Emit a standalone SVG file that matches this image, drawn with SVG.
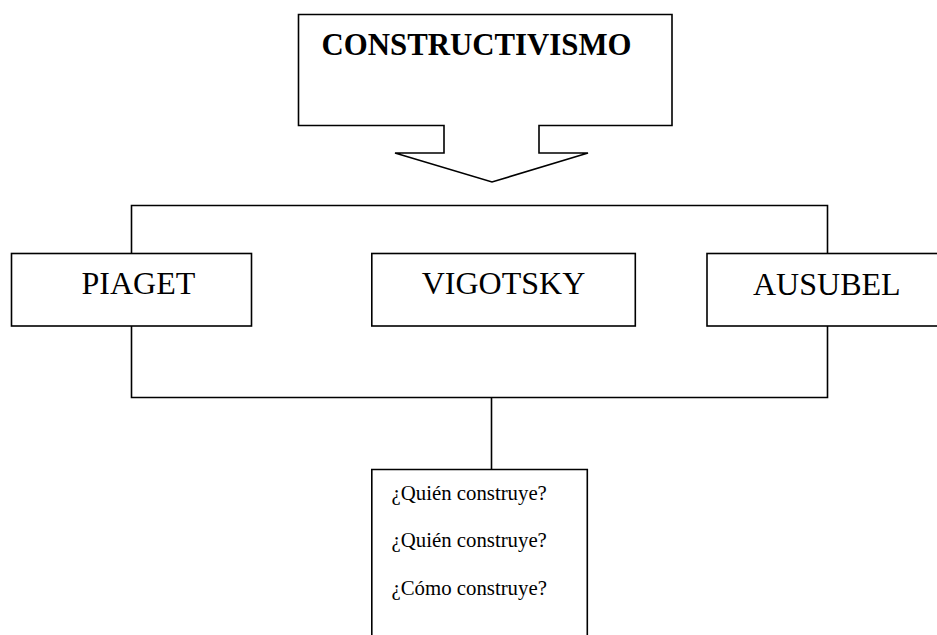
<svg xmlns="http://www.w3.org/2000/svg" width="937" height="635" viewBox="0 0 937 635">
<style>
.s{fill:#fff;stroke:#000;stroke-width:1.6}
.c{fill:none;stroke:#000;stroke-width:1.6}
.t{font-family:"Liberation Serif","Times New Roman",serif;fill:#000}
.q{font-size:20.8px}
</style>
<rect width="937" height="635" fill="#fff"/>
<g id="connectors">
<polyline class="c" points="131.5,253 131.5,205.5 827.5,205.5 827.5,253"/>
<polyline class="c" points="131.5,326 131.5,397.5 827.5,397.5 827.5,326"/>
<line class="c" x1="491.5" y1="397.5" x2="491.5" y2="469.5"/>
</g>
<g id="constructivismo">
<path class="s" d="M298.5,14.5 H672 V125.5 H539 V153 H588 L492,182 L395,153 H444 V125.5 H298.5 Z"/>
<text class="t" x="321.5" y="55" font-size="31" font-weight="bold" textLength="310" lengthAdjust="spacingAndGlyphs">CONSTRUCTIVISMO</text>
</g>
<g id="piaget">
<rect class="s" x="11.5" y="253.5" width="240" height="72.5"/>
<text class="t" x="81.5" y="294" font-size="32">PIAGET</text>
</g>
<g id="vigotsky">
<rect class="s" x="371.8" y="253.5" width="263.5" height="72.5"/>
<text class="t" x="503.5" y="294" font-size="32" text-anchor="middle">VIGOTSKY</text>
</g>
<g id="ausubel">
<rect class="s" x="707" y="253.5" width="240" height="72.5"/>
<text class="t" x="753" y="295" font-size="32">AUSUBEL</text>
</g>
<g id="preguntas">
<path class="s" d="M371.8,640 V469.5 H587.3 V640"/>
<text class="t q" x="391.5" y="500">¿Quién construye?</text>
<text class="t q" x="391.5" y="547">¿Quién construye?</text>
<text class="t q" x="391.5" y="595">¿Cómo construye?</text>
</g>
</svg>
